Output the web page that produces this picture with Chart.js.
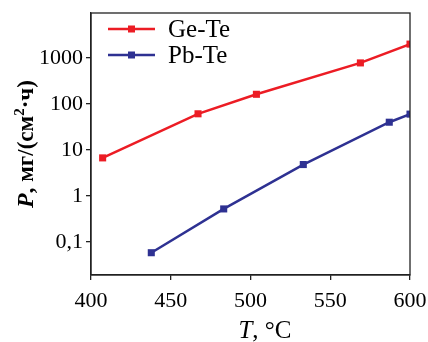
<!DOCTYPE html>
<html><head><meta charset="utf-8">
<script src="https://cdn.jsdelivr.net/npm/chart.js@4/dist/chart.umd.min.js"></script>
<style>html,body{margin:0;padding:0;background:#fff}#wrap{width:428px;height:342px}</style>
</head><body><div id="wrap"><canvas id="c" width="428" height="342"></canvas></div>
<script>
// ---- data ----
const seriesNames = ['Ge-Te', 'Pb-Te'];
const seriesColors = ['#ec1c24', '#2e3192'];
const geTeT = [407.3, 467.1, 503.7, 568.9, 600];
const geTeP = [6.7, 61, 162, 780, 2000];
const pbTeT = [437.8, 483.2, 533.1, 587.0, 600];
const pbTeP = [0.058, 0.52, 4.8, 40, 60];
const yTickValues = [0.1, 1, 10, 100, 1000];
const yTickLabels = ['0,1', '1', '10', '100', '1000'];
const xTickValues = [400, 450, 500, 550, 600];

const SERIF = '"Liberation Serif", "Times New Roman", serif';

const frameAndText = {
  id: 'frameAndText',
  afterDraw(chart) {
    const ctx = chart.ctx, a = chart.chartArea;
    ctx.save();
    ctx.strokeStyle = '#222';
    ctx.lineWidth = 1.3;
    ctx.strokeRect(a.left, a.top, a.right - a.left, a.bottom - a.top);

    // legend
    chart.data.datasets.forEach((ds, i) => {
      const y = 29 + i * 26;
      ctx.strokeStyle = ds.borderColor;
      ctx.lineWidth = 2.5;
      ctx.beginPath(); ctx.moveTo(108, y); ctx.lineTo(155, y); ctx.stroke();
      ctx.fillStyle = ds.borderColor;
      ctx.fillRect(131.5 - 3.5, y - 3.5, 7, 7);
      ctx.fillStyle = '#000';
      ctx.font = '25px ' + SERIF;
      ctx.textBaseline = 'middle';
      ctx.textAlign = 'left';
      ctx.fillText(ds.label, 168, y + 1);
    });

    // x title
    ctx.fillStyle = '#000';
    ctx.textBaseline = 'alphabetic';
    ctx.textAlign = 'left';
    const xt1 = 'T', xt2 = ', °C';
    ctx.font = 'italic 25px ' + SERIF;
    const w1 = ctx.measureText(xt1).width;
    ctx.font = '25px ' + SERIF;
    const w2 = ctx.measureText(xt2).width;
    let x0 = 265 - (w1 + w2) / 2;
    ctx.font = 'italic 25px ' + SERIF;
    ctx.fillText(xt1, x0, 338);
    ctx.font = '25px ' + SERIF;
    ctx.fillText(xt2, x0 + w1, 338);

    // y title (rotated)
    ctx.save();
    ctx.translate(33, 144);
    ctx.rotate(-Math.PI / 2);
    const parts = [
      { t: 'P', f: 'italic bold 24px ' + SERIF, dy: 0 },
      { t: ', мг/(см', f: 'bold 23px ' + SERIF, dy: 0 },
      { t: '2', f: 'bold 15px ' + SERIF, dy: -9 },
      { t: '·ч)', f: 'bold 23px ' + SERIF, dy: 0 }
    ];
    let tw = 0;
    parts.forEach(p => { ctx.font = p.f; p.w = ctx.measureText(p.t).width; tw += p.w; });
    let px = -tw / 2;
    parts.forEach(p => { ctx.font = p.f; ctx.fillText(p.t, px, p.dy); px += p.w; });
    ctx.restore();
    ctx.restore();
  }
};

new Chart(document.getElementById('c'), {
  type: 'line',
  data: {
    datasets: [
      { label: seriesNames[0], data: geTeT.map((t, i) => ({ x: t, y: geTeP[i] })),
        borderColor: seriesColors[0], backgroundColor: seriesColors[0] },
      { label: seriesNames[1], data: pbTeT.map((t, i) => ({ x: t, y: pbTeP[i] })),
        borderColor: seriesColors[1], backgroundColor: seriesColors[1] }
    ]
  },
  options: {
    responsive: false,
    devicePixelRatio: 1,
    animation: false,
    layout: { padding: { top: 13, right: 18, left: 0, bottom: 0 } },
    elements: {
      line: { borderWidth: 2.5, tension: 0 },
      point: { pointStyle: 'rect', radius: 5, borderWidth: 0, hoverRadius: 5 }
    },
    plugins: { legend: { display: false }, tooltip: { enabled: false } },
    scales: {
      x: {
        type: 'linear', min: 400, max: 600,
        afterBuildTicks: s => { s.ticks = xTickValues.map(v => ({ value: v })); },
        afterFit: s => { s.height = 67; s.paddingRight = 0; s.paddingLeft = 0; },
        ticks: { font: { family: SERIF, size: 22 }, color: '#000', padding: 8, maxRotation: 0 },
        grid: { display: true, drawOnChartArea: false, drawTicks: true, tickLength: 5, color: '#222', lineWidth: 1.3 },
        border: { display: true, color: '#222', width: 1.3 }
      },
      y: {
        type: 'logarithmic', min: 0.019, max: 9500,
        afterBuildTicks: s => { s.ticks = yTickValues.map(v => ({ value: v })); },
        afterFit: s => { s.width = 91; s.paddingTop = 0; s.paddingBottom = 0; },
        ticks: {
          font: { family: SERIF, size: 22 }, color: '#000', padding: 3,
          callback: (v) => { const i = yTickValues.indexOf(v); return i >= 0 ? yTickLabels[i] : ''; }
        },
        grid: { display: true, drawOnChartArea: false, drawTicks: true, tickLength: 5, color: '#222', lineWidth: 1.3 },
        border: { display: true, color: '#222', width: 1.3 }
      }
    }
  },
  plugins: [frameAndText]
});
</script>
</body></html>
